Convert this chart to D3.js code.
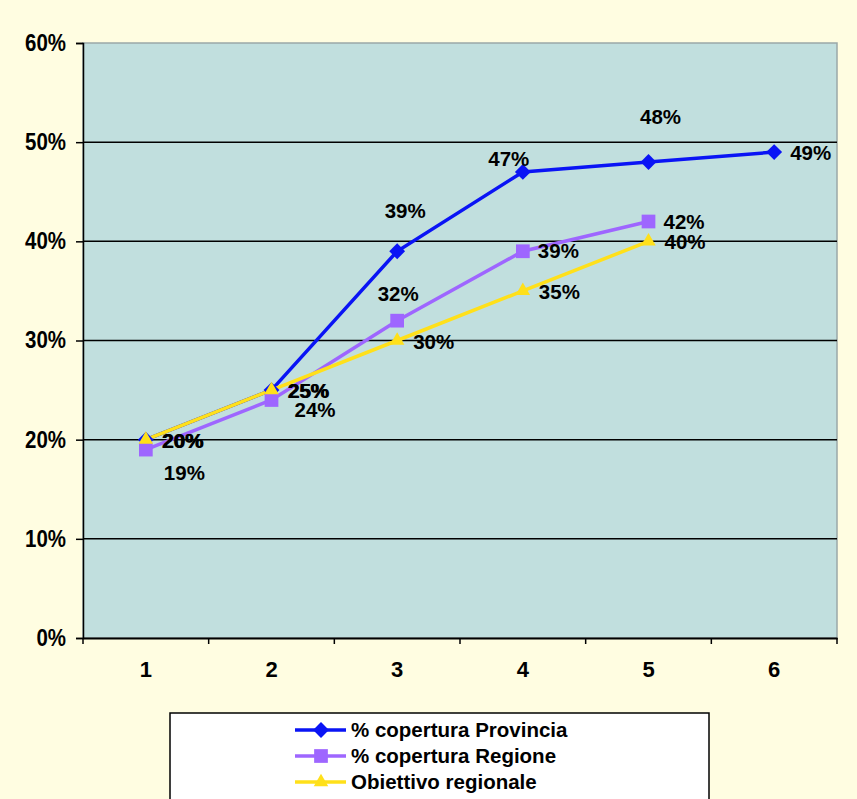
<!DOCTYPE html>
<html>
<head>
<meta charset="utf-8">
<script src="https://cdn.jsdelivr.net/npm/d3@7"></script>
<style>
  body { margin: 0; background: #fffde1; }
  text { font-family: "Liberation Sans", Arial, sans-serif; font-weight: bold; fill: #000; }
</style>
</head>
<body>
<div id="chart"></div>
<script>
// data
var categories = ["1", "2", "3", "4", "5", "6"];
var provincia = [0.20, 0.25, 0.39, 0.47, 0.48, 0.49];
var regione = [0.19, 0.24, 0.32, 0.39, 0.42];
var obiettivo = [0.20, 0.25, 0.30, 0.35, 0.40];
var yTicks = [0, 0.1, 0.2, 0.3, 0.4, 0.5, 0.6];
var seriesNames = ["% copertura Provincia", "% copertura Regione", "Obiettivo regionale"];

// label placement per point: [dx, dy, anchor]
var provinciaLabelPos = [[17, 8, "start"], [17, 8, "start"], [8, -33, "middle"], [-14, -6, "middle"], [12, -38, "middle"], [16, 8, "start"]];
var regioneLabelPos = [[18, 30, "start"], [23, 17, "start"], [1, -20, "middle"], [15, 7, "start"], [15, 7, "start"]];
var obiettivoLabelPos = [[16, 8, "start"], [16, 8, "start"], [16, 8, "start"], [16, 8, "start"], [16, 8, "start"]];

var W = 857, H = 799;
var plotLeft = 83, plotRight = 837, plotTop = 43, plotBottom = 638;

var svg = d3.select("#chart").append("svg").attr("width", W).attr("height", H);
svg.append("rect").attr("width", W).attr("height", H).attr("fill", "#fffde1");

var x = d3.scaleBand().domain(categories).range([plotLeft, plotRight]);
var y = d3.scaleLinear().domain([0, 0.6]).range([plotBottom, plotTop]);
function cx(i) { return x(categories[i]) + x.bandwidth() / 2; }

// plot area
svg.append("rect")
  .attr("x", plotLeft).attr("y", plotTop)
  .attr("width", plotRight - plotLeft).attr("height", plotBottom - plotTop)
  .attr("fill", "#c1dfde")
  .attr("stroke", "#9aa8a8").attr("stroke-width", 1.5);

// gridlines
svg.selectAll(".grid").data(yTicks.filter(function (d) { return d > 0 && d < 0.6; }))
  .enter().append("line")
  .attr("x1", plotLeft).attr("x2", plotRight)
  .attr("y1", function (d) { return y(d); }).attr("y2", function (d) { return y(d); })
  .attr("stroke", "#000").attr("stroke-width", 1.5);

// y axis (labels are a bit tall and narrow in the original)
var yAxis = svg.append("g").attr("transform", "translate(" + plotLeft + ",0)")
  .call(d3.axisLeft(y).tickValues(yTicks).tickFormat(d3.format(".0%")).tickSize(7).tickPadding(10));
yAxis.selectAll("text").style("font-size", "23px")
  .each(function () {
    var len = this.getComputedTextLength();
    d3.select(this).attr("textLength", len * 0.89).attr("lengthAdjust", "spacingAndGlyphs");
  });
yAxis.selectAll("line, path").attr("stroke", "#000").attr("stroke-width", 1.5);

// x axis: labels at band centers, ticks at band edges
var xAxis = svg.append("g").attr("transform", "translate(0," + plotBottom + ")")
  .call(d3.axisBottom(x).tickSize(0).tickPadding(23));
xAxis.selectAll("text").style("font-size", "22px");
xAxis.select("path").attr("stroke", "#000").attr("stroke-width", 2);
svg.selectAll(".xtick").data(d3.range(categories.length + 1))
  .enter().append("line")
  .attr("x1", function (i) { return plotLeft + i * x.step(); })
  .attr("x2", function (i) { return plotLeft + i * x.step(); })
  .attr("y1", plotBottom).attr("y2", plotBottom + 6)
  .attr("stroke", "#000").attr("stroke-width", 1.5);

var series = [
  { name: seriesNames[0], values: provincia, color: "#0a14f5", symbol: d3.symbolDiamond2, size: 160, labels: provinciaLabelPos },
  { name: seriesNames[1], values: regione, color: "#9e66ff", symbol: d3.symbolSquare2, size: 240, labels: regioneLabelPos },
  { name: seriesNames[2], values: obiettivo, color: "#ffe01a", symbol: d3.symbolTriangle2, size: 150, labels: obiettivoLabelPos }
];

var line = d3.line()
  .x(function (d, i) { return cx(i); })
  .y(function (d) { return y(d); });

series.forEach(function (s) {
  svg.append("path")
    .attr("d", line(s.values))
    .attr("fill", "none")
    .attr("stroke", s.color)
    .attr("stroke-width", 3.5);
});

series.forEach(function (s) {
  svg.selectAll(null).data(s.values).enter().append("path")
    .attr("d", d3.symbol().type(s.symbol).size(s.size))
    .attr("transform", function (d, i) { return "translate(" + cx(i) + "," + y(d) + ")"; })
    .attr("fill", s.color);
});

series.forEach(function (s) {
  svg.selectAll(null).data(s.values).enter().append("text")
    .attr("x", function (d, i) { return cx(i) + s.labels[i][0]; })
    .attr("y", function (d, i) { return y(d) + s.labels[i][1]; })
    .attr("text-anchor", function (d, i) { return s.labels[i][2]; })
    .style("font-size", "20.5px")
    .text(function (d) { return d3.format(".0%")(d); });
});

// legend
var lg = svg.append("g");
lg.append("rect")
  .attr("x", 170).attr("y", 713).attr("width", 539).attr("height", 90)
  .attr("fill", "#fff").attr("stroke", "#000").attr("stroke-width", 1.5);
series.forEach(function (s, i) {
  var ly = 730 + i * 26;
  lg.append("line")
    .attr("x1", 295).attr("x2", 346).attr("y1", ly).attr("y2", ly)
    .attr("stroke", s.color).attr("stroke-width", 3.5);
  lg.append("path")
    .attr("d", d3.symbol().type(s.symbol).size(s.size)())
    .attr("transform", "translate(321," + ly + ")")
    .attr("fill", s.color);
  lg.append("text")
    .attr("x", 351).attr("y", ly + 7)
    .style("font-size", "20.5px")
    .text(s.name);
});
</script>
</body>
</html>
